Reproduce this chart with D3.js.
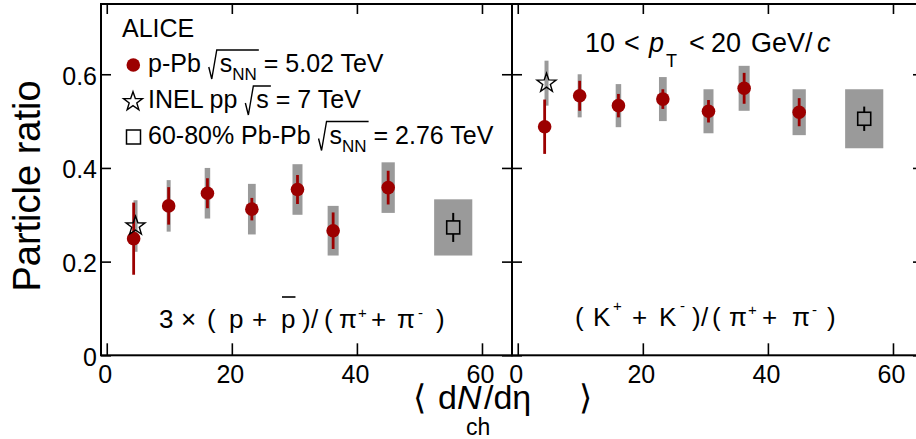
<!DOCTYPE html>
<html><head><meta charset="utf-8">
<script src="https://cdn.jsdelivr.net/npm/d3@7"></script>
<style>
body{margin:0;background:#fff}
svg{display:block}
text{font-family:"Liberation Sans",Arial,Helvetica,sans-serif;fill:#000}
</style>
</head><body>
<svg id="c" width="916" height="439"></svg>
<script>
// ---------- data ----------
const dNdeta      = [4.3, 9.9, 16.1, 23.2, 30.5, 36.2, 45.0];
const dNdetaSys   = [0.3, 0.32, 0.44, 0.62, 0.8, 0.88, 1.06];
const protonRatio = [0.249, 0.319, 0.346, 0.312, 0.354, 0.266, 0.358];
const protonStat  = [0.077, 0.040, 0.032, 0.024, 0.031, 0.039, 0.036];
const protonSys   = [null, 0.055, 0.054, 0.054, 0.054, 0.053, 0.054];
const kaonRatio   = [0.488, 0.554, 0.533, 0.547, 0.521, 0.570, 0.519];
const kaonStat    = [0.058, 0.032, 0.025, 0.021, 0.024, 0.033, 0.030];
const kaonSys     = [null, 0.046, 0.046, 0.047, 0.047, 0.048, 0.049];
const ppX = 4.6, ppXSys = 0.32;
const ppProton = 0.276, ppProtonSys = 0.055;
const ppKaon = 0.581, ppKaonSys = 0.048;
const pbX = 55.4, pbXSys = 3.05;
const pbProton = 0.273, pbProtonStat = 0.031, pbProtonSys = 0.060;
const pbKaon = 0.505, pbKaonStat = 0.026, pbKaonSys = 0.063;
const xTicks = [0, 20, 40, 60];
const yTicks = [0, 0.2, 0.4, 0.6];
const yTickLabels = ["0", "0.2", "0.4", "0.6"];

// ---------- setup ----------
const svg = d3.select("#c");
const RED = "#9c0000", GRAY = "#9a9a9a";
const y = d3.scaleLinear().domain([0, 0.75]).range([355.3, 4]);
const xL = d3.scaleLinear().domain([-0.92, 64.8]).range([101, 512]);
const xR = d3.scaleLinear().domain([-0.92, 64.8]).range([512, 923]);

function starPath(R) {
  const r = R * 0.4, pts = [];
  for (let i = 0; i < 10; i++) {
    const a = -Math.PI / 2 + i * Math.PI / 5, rr = i % 2 ? r : R;
    pts.push([rr * Math.cos(a), rr * Math.sin(a)]);
  }
  return "M" + pts.map(p => p[0].toFixed(2) + "," + p[1].toFixed(2)).join("L") + "Z";
}

// rich text helper
function rich(parent, x, yb, size, parts) {
  const t = parent.append("text").attr("x", x).attr("y", yb).attr("font-size", size);
  let shift = 0;
  const nodes = [];
  parts.forEach(p => {
    const target = p.dy || 0;
    const ts = t.append("tspan").text(p.t).attr("font-size", p.fs || size)
      .attr("dy", target - shift);
    shift = target;
    if (p.it) ts.attr("font-style", "italic");
    if (p.dx) ts.attr("dx", p.dx);
    if (p.x != null) ts.attr("x", p.x);
    nodes.push({p, node: ts.node()});
  });
  const overs = nodes.filter(n => n.p.over);
  if (overs.length) {
    const xs = overs[0].node.getStartPositionOfChar(0).x;
    const last = overs[overs.length - 1].node;
    const xe = last.getEndPositionOfChar(last.getNumberOfChars() - 1).x;
    const xr = xs - 11;
    parent.append("path")
      .attr("d", `M${xr},${yb - 5}L${xr + 3},${yb + 7}L${xr + 8},${yb - 22}L${xe + 2},${yb - 22}`)
      .attr("fill", "none").attr("stroke", "#000").attr("stroke-width", 1.4);
  }
  nodes.filter(n => n.p.bar).forEach(n => {
    const a = n.node.getStartPositionOfChar(0).x;
    const b = n.node.getEndPositionOfChar(0).x;
    parent.append("line").attr("x1", a + 1).attr("x2", b)
      .attr("y1", yb - n.p.bar).attr("y2", yb - n.p.bar)
      .attr("stroke", "#000").attr("stroke-width", 1.6);
  });
  return t;
}

// ---------- panels ----------
function panel(x, ratio, stat, sys, ppV, ppS, pbV, pbStat, pbS) {
  const g = svg.append("g");
  g.selectAll(".sys").data(dNdeta.map((d, i) => ({d, i})).filter(o => sys[o.i] != null))
    .enter().append("rect")
    .attr("x", o => x(o.d - dNdetaSys[o.i]))
    .attr("width", o => x(o.d + dNdetaSys[o.i]) - x(o.d - dNdetaSys[o.i]))
    .attr("y", o => y(ratio[o.i] + sys[o.i]))
    .attr("height", o => y(ratio[o.i] - sys[o.i]) - y(ratio[o.i] + sys[o.i]))
    .attr("fill", GRAY);
  g.append("rect").attr("x", x(ppX - ppXSys)).attr("width", x(ppX + ppXSys) - x(ppX - ppXSys))
    .attr("y", y(ppV + ppS)).attr("height", y(ppV - ppS) - y(ppV + ppS)).attr("fill", GRAY);
  g.append("rect").attr("x", x(pbX - pbXSys)).attr("width", x(pbX + pbXSys) - x(pbX - pbXSys))
    .attr("y", y(pbV + pbS)).attr("height", y(pbV - pbS) - y(pbV + pbS)).attr("fill", GRAY);
  g.selectAll(".stat").data(dNdeta).enter().append("line")
    .attr("x1", d => x(d)).attr("x2", d => x(d))
    .attr("y1", (d, i) => y(ratio[i] + stat[i])).attr("y2", (d, i) => y(ratio[i] - stat[i]))
    .attr("stroke", RED).attr("stroke-width", 2.8);
  g.selectAll(".pt").data(dNdeta).enter().append("circle")
    .attr("cx", d => x(d)).attr("cy", (d, i) => y(ratio[i])).attr("r", 6.8).attr("fill", RED);
  g.append("path").attr("d", starPath(10)).attr("transform", `translate(${x(ppX)},${y(ppV)})`)
    .attr("fill", "none").attr("stroke", "#000").attr("stroke-width", 1.4);
  const h = 6.5, cx = x(pbX), cy = y(pbV);
  g.append("line").attr("x1", cx).attr("x2", cx).attr("y1", y(pbV + pbStat)).attr("y2", cy - h)
    .attr("stroke", "#000").attr("stroke-width", 2);
  g.append("line").attr("x1", cx).attr("x2", cx).attr("y1", cy + h).attr("y2", y(pbV - pbStat))
    .attr("stroke", "#000").attr("stroke-width", 2);
  g.append("rect").attr("x", cx - h).attr("y", cy - h).attr("width", 2 * h).attr("height", 2 * h)
    .attr("fill", "none").attr("stroke", "#000").attr("stroke-width", 1.6);
}
panel(xL, protonRatio, protonStat, protonSys, ppProton, ppProtonSys, pbProton, pbProtonStat, pbProtonSys);
panel(xR, kaonRatio, kaonStat, kaonSys, ppKaon, ppKaonSys, pbKaon, pbKaonStat, pbKaonSys);

// ---------- axes ----------
function styleAxis(sel) {
  sel.select(".domain").remove();
  sel.selectAll(".tick line").attr("stroke", "#000").attr("stroke-width", 1.6);
  sel.selectAll("text").attr("font-size", 25).attr("font-family", null);
}
[xL, xR].forEach(x => {
  const yb = y(0);
  const b = svg.append("g").attr("transform", `translate(0,${yb})`)
    .call(d3.axisBottom(x).tickValues(xTicks).tickSizeInner(-12).tickSizeOuter(0).tickPadding(10));
  styleAxis(b);
  b.selectAll("text").attr("dx", -2).attr("dy", "0.71em");
  const t = svg.append("g").attr("transform", `translate(0,${y(0.75)})`)
    .call(d3.axisTop(x).tickValues(xTicks).tickSizeInner(-10).tickSizeOuter(0).tickFormat(""));
  styleAxis(t);
  const [x0, x1] = x.range();
  const l = svg.append("g").attr("transform", `translate(${x0},0)`)
    .call(d3.axisLeft(y).tickValues(yTicks).tickSizeInner(-10).tickSizeOuter(0).tickPadding(4)
      .tickFormat((d, i) => x === xL ? yTickLabels[i] : ""));
  styleAxis(l);
  l.selectAll("text").attr("dy", "0.4em");
  const r = svg.append("g").attr("transform", `translate(${x1},0)`)
    .call(d3.axisRight(y).tickValues(yTicks).tickSizeInner(-10).tickSizeOuter(0).tickFormat(""));
  styleAxis(r);
  svg.append("rect").attr("x", x0).attr("y", y(0.75)).attr("width", x1 - x0).attr("height", y(0) - y(0.75))
    .attr("fill", "none").attr("stroke", "#000").attr("stroke-width", 2);
});

// ---------- titles ----------
svg.append("text").attr("transform", "translate(39.5,186) rotate(-90)")
  .attr("text-anchor", "middle").attr("font-size", 38).text("Particle ratio");

const xt = svg.append("g");
rich(xt, 413, 409, 34, [
  {t: "\u27E8"}, {t: "d", x: 438}, {t: "N", it: true},
  {t: "ch", fs: 23, dy: 26, x: 466},
  {t: "/d\u03B7", dy: 0, x: 484}, {t: "\u27E9", x: 579}
]);

// ---------- legend ----------
const lg = svg.append("g");
lg.append("text").attr("x", 122).attr("y", 37).attr("font-size", 25).text("ALICE");
lg.append("circle").attr("cx", 133.3).attr("cy", 65).attr("r", 6.8).attr("fill", RED);
rich(lg, 148, 72, 25, [{t: "p-Pb "}, {t: "s", over: true, dx: 12}, {t: "NN", fs: 17, dy: 8, over: true}, {t: " = 5.02 TeV", dy: 0}]);
lg.append("path").attr("d", starPath(10)).attr("transform", "translate(133,101.7)")
  .attr("fill", "none").attr("stroke", "#000").attr("stroke-width", 1.4);
rich(lg, 148, 108, 25, [{t: "INEL pp "}, {t: "s", over: true, dx: 12}, {t: " = 7 TeV"}]);
lg.append("rect").attr("x", 126.5).attr("y", 130).attr("width", 14).attr("height", 14)
  .attr("fill", "none").attr("stroke", "#000").attr("stroke-width", 1.5);
rich(lg, 148, 143.5, 25, [{t: "60-80% Pb-Pb "}, {t: "s", over: true, dx: 12}, {t: "NN", fs: 17, dy: 8, over: true}, {t: " = 2.76 TeV", dy: 0}]);

// ---------- panel labels ----------
rich(svg, 585, 52, 27, [
  {t: "10"}, {t: "<", x: 624}, {t: "p", it: true, x: 649}, {t: "T", fs: 18, dy: 15, x: 666},
  {t: "<", dy: 0, x: 689}, {t: "20", x: 711}, {t: "GeV/", x: 751}, {t: "c", it: true, x: 817}
]);
rich(svg, 159, 328, 26, [
  {t: "3"}, {t: "\u00D7", x: 181}, {t: "(", x: 207}, {t: "p", x: 229}, {t: "+", x: 252},
  {t: "p", x: 281, bar: 31}, {t: ")", x: 302}, {t: "/", x: 311}, {t: "(", x: 324},
  {t: "\u03C0", x: 339}, {t: "+", fs: 15, dy: -10, x: 358}, {t: "+", dy: 0, x: 371},
  {t: "\u03C0", x: 397}, {t: "-", fs: 15, dy: -10, x: 418}, {t: ")", dy: 0, x: 436}
]);
rich(svg, 575, 326, 26, [
  {t: "("}, {t: "K", x: 593}, {t: "+", fs: 15, dy: -15, x: 613}, {t: "+", dy: 0, x: 632},
  {t: "K", x: 659}, {t: "-", fs: 15, dy: -15, x: 680}, {t: ")", dy: 0, x: 692},
  {t: "/", x: 701}, {t: "(", x: 712}, {t: "\u03C0", x: 729}, {t: "+", fs: 15, dy: -11, x: 748},
  {t: "+", dy: 0, x: 762}, {t: "\u03C0", x: 792}, {t: "-", fs: 15, dy: -11, x: 812}, {t: ")", dy: 0, x: 827}
]);
</script>
</body></html>
